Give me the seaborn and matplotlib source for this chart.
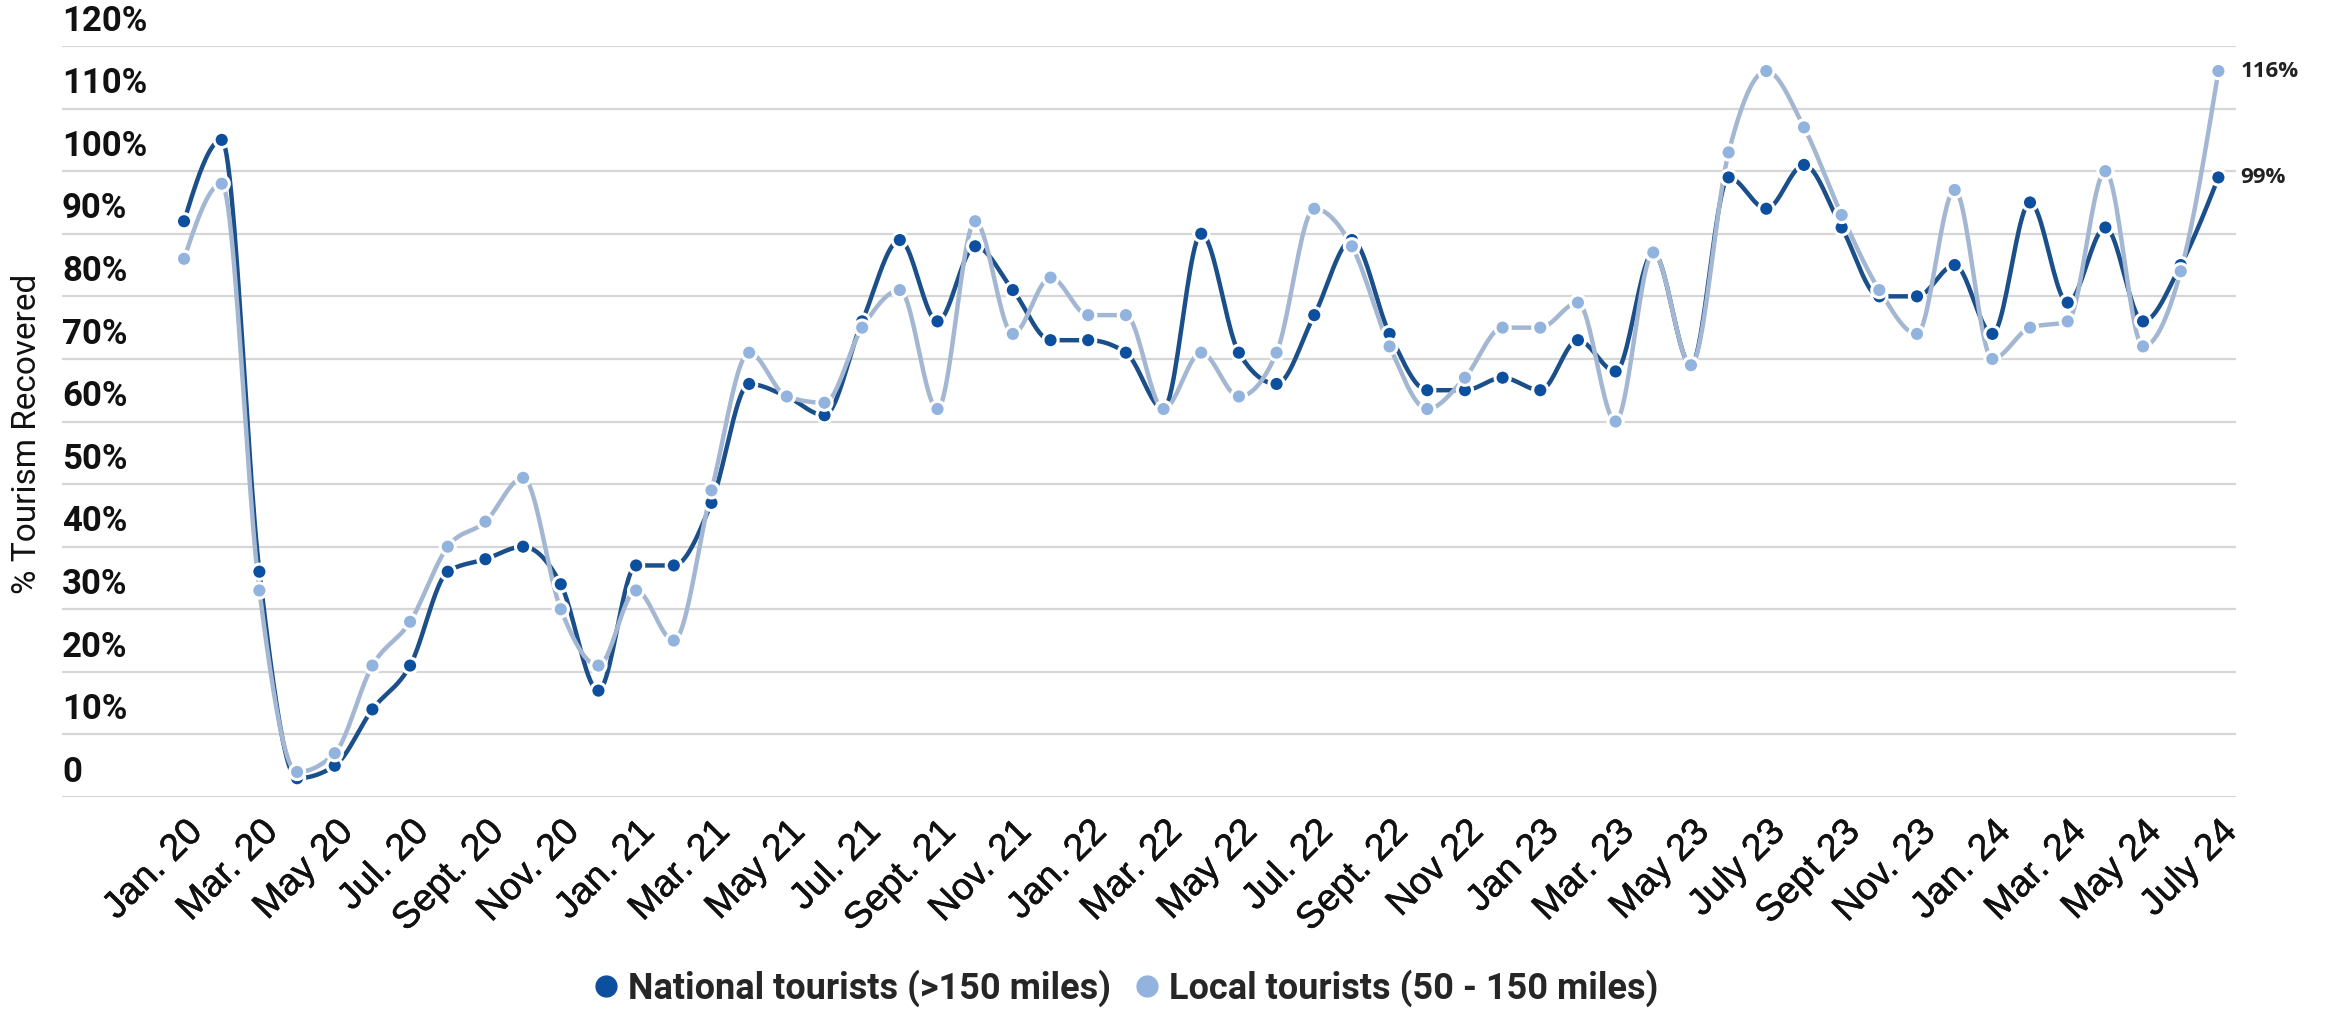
import numpy as np
import pandas as pd
import matplotlib
matplotlib.use("Agg")
import matplotlib.pyplot as plt
import matplotlib.transforms as mtransforms
import matplotlib.patheffects as pe
from matplotlib.lines import Line2D
import seaborn as sns

# ---- data -------------------------------------------------------------
tick_labels = ["Jan. 20", "Mar. 20", "May 20", "Jul. 20", "Sept. 20", "Nov. 20",
               "Jan. 21", "Mar. 21", "May 21", "Jul. 21", "Sept. 21", "Nov. 21",
               "Jan. 22", "Mar. 22", "May 22", "Jul. 22", "Sept. 22", "Nov 22",
               "Jan 23", "Mar. 23", "May 23", "July 23", "Sept 23", "Nov. 23",
               "Jan. 24", "Mar. 24", "May 24", "July 24"]

national = [92, 105, 36, 3, 5, 14, 21, 36, 38, 40, 34, 17,
            37, 37, 47, 66, 64, 61, 76, 89, 76, 88, 81, 73,
            73, 71, 62, 90, 71, 66, 77, 89, 74, 65, 65, 67,
            65, 73, 68, 87, 69, 99, 94, 101, 91, 80, 80, 85,
            74, 95, 79, 91, 76, 85, 99]

local = [86, 98, 33, 4, 7, 21, 28, 40, 44, 51, 30, 21,
         33, 25, 49, 71, 64, 63, 75, 81, 62, 92, 74, 83,
         77, 77, 62, 71, 64, 71, 94, 88, 72, 62, 67, 75,
         75, 79, 60, 87, 69, 103, 116, 107, 93, 81, 74, 97,
         70, 75, 76, 100, 72, 84, 116]

series_names = ["National tourists (>150 miles)", "Local tourists (50 - 150 miles)"]
y_ticks = [0, 10, 20, 30, 40, 50, 60, 70, 80, 90, 100, 110, 120]
y_tick_labels = ["0"] + [f"{v}%" for v in y_ticks[1:]]

marker_colors = {series_names[0]: "#0d4f9f", series_names[1]: "#92b3de"}
line_colors = {series_names[0]: "#1b4f8a", series_names[1]: "#a4b7d2"}


def monotone_curve(y, steps=24):
    """Monotone cubic (d3 curveMonotoneX style) path through equally spaced points."""
    y = np.asarray(y, dtype=float)
    n = len(y)
    s = np.diff(y)
    m = np.zeros(n)
    for i in range(1, n - 1):
        s0, s1 = s[i - 1], s[i]
        p = (s0 + s1) / 2.0
        m[i] = (np.sign(s0) + np.sign(s1)) * min(abs(s0), abs(s1), 0.5 * abs(p))
    m[0] = (3 * s[0] - m[1]) / 2.0
    m[-1] = (3 * s[-1] - m[-2]) / 2.0
    xs, ys = [], []
    t = np.linspace(0, 1, steps, endpoint=False)
    h00 = 2 * t**3 - 3 * t**2 + 1
    h10 = t**3 - 2 * t**2 + t
    h01 = -2 * t**3 + 3 * t**2
    h11 = t**3 - t**2
    for i in range(n - 1):
        xs.append(i + t)
        ys.append(h00 * y[i] + h10 * m[i] + h01 * y[i + 1] + h11 * m[i + 1])
    xs.append(np.array([n - 1.0]))
    ys.append(np.array([y[-1]]))
    return np.concatenate(xs), np.concatenate(ys)


points = pd.concat([
    pd.DataFrame({"idx": np.arange(len(national)), "value": national, "series": series_names[0]}),
    pd.DataFrame({"idx": np.arange(len(local)), "value": local, "series": series_names[1]}),
], ignore_index=True)

curves = []
for name, vals in zip(series_names, [national, local]):
    cx, cy = monotone_curve(vals)
    curves.append(pd.DataFrame({"idx": cx, "value": cy, "series": name}))
curves = pd.concat(curves, ignore_index=True)

# ---- figure -----------------------------------------------------------
sns.set_theme(style="white")
plt.rcParams["font.family"] = ["Roboto", "DejaVu Sans"]

fig = plt.figure(figsize=(23.30, 10.09), dpi=100)
ax = fig.add_axes([0.0266, 0.2101, 0.9331, 0.7443])

for v in y_ticks:
    ax.axhline(v, color="#d6d6d6", lw=1.6, zorder=0)

sns.lineplot(data=curves, x="idx", y="value", hue="series", palette=line_colors,
             estimator=None, sort=False, linewidth=3.2, legend=False, ax=ax, zorder=2)
for line in ax.lines[-2:]:
    line.set_clip_on(False)

sns.scatterplot(data=points, x="idx", y="value", hue="series", palette=marker_colors,
                s=120, edgecolor="white", linewidth=2.2, legend=False, ax=ax,
                zorder=3, clip_on=False)

ax.set_xlim(-3.24, 54.47)
ax.set_ylim(0, 120)
ax.set_xlabel("")
ax.set_ylabel("")
for sp in ax.spines.values():
    sp.set_visible(False)

# x ticks every two months
ax.set_xticks(np.arange(0, len(national), 2))
ax.set_xticklabels(tick_labels, rotation=45, ha="right", rotation_mode="anchor",
                   fontsize=27, family=["Liberation Sans", "DejaVu Sans"], color="#111111")
for lab in ax.get_xticklabels():
    lab.set_path_effects([pe.withStroke(linewidth=0.4, foreground="#111111")])
ax.tick_params(axis="x", length=0, pad=12)

# y labels sit above their gridlines at the left edge
ax.set_yticks([])
trans = mtransforms.blended_transform_factory(ax.transAxes, ax.transData)
offset = mtransforms.offset_copy(trans, fig=fig, x=0, y=6, units="points")
for v, lab in zip(y_ticks, y_tick_labels):
    ax.text(0.0, v, lab, transform=offset, ha="left", va="bottom",
            fontsize=25, fontweight="semibold", color="#111111")

fig.text(0.0116, 0.57, "% Tourism Recovered", rotation=90, ha="center", va="center",
         fontsize=24, color="#111111")

# end-point value labels
last = len(national) - 1
for vals in [local, national]:
    ax.annotate(f"{vals[last]}%", xy=(last, vals[last]), xytext=(16, 0),
                textcoords="offset points", ha="left", va="center",
                fontsize=16, fontweight="bold", color="#222222",
                family=["Open Sans", "DejaVu Sans"], annotation_clip=False)

handles = [Line2D([0], [0], marker="o", linestyle="none", markersize=15,
                  markerfacecolor=marker_colors[n], markeredgecolor=marker_colors[n])
           for n in series_names]
fig.legend(handles, series_names, loc="center", bbox_to_anchor=(0.482, 0.021),
           ncol=2, frameon=False, handletextpad=0.1, handlelength=1.0,
           columnspacing=0.5,
           prop={"family": ["Roboto", "DejaVu Sans"], "weight": "semibold", "size": 26})

fig.savefig("out.png", dpi=100, facecolor="white")
